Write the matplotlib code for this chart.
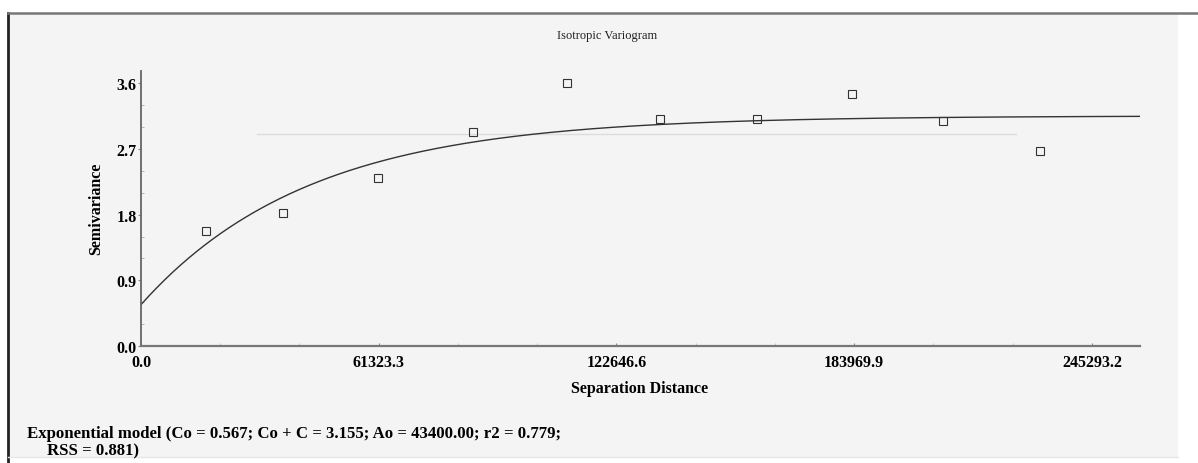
import numpy as np
import matplotlib
matplotlib.use("Agg")
import matplotlib.pyplot as plt
from matplotlib.lines import Line2D
from matplotlib.patches import Rectangle

# ---- data ----
lag_distance = [16800, 36700, 61200, 85700, 110000, 134000, 159000, 183300, 206800, 232000]
semivariance = [1.57, 1.82, 2.30, 2.94, 3.61, 3.11, 3.11, 3.46, 3.08, 2.68]
nugget = 0.567          # Co
sill = 3.155            # Co + C
range_a0 = 43400.0      # Ao
sample_variance = 2.91
x_ticks = [0.0, 61323.3, 122646.6, 183969.9, 245293.2]
y_ticks = [0.0, 0.9, 1.8, 2.7, 3.6]
title = "Isotropic Variogram"
xlabel = "Separation Distance"
ylabel = "Semivariance"
footer1 = "Exponential model (Co = 0.567; Co + C = 3.155; Ao = 43400.00; r2 = 0.779;"
footer2 = "RSS = 0.881)"

W, H = 1198, 464
plt.rcParams["font.family"] = ["Liberation Serif", "DejaVu Serif"]
fig = plt.figure(figsize=(W / 100, H / 100), dpi=100, facecolor="white")

# panel background and borders
fig.patches.append(Rectangle((8 / W, 1 - 458 / H), (1178 - 8) / W, (458 - 14) / H,
                             transform=fig.transFigure, facecolor="#f4f4f4",
                             edgecolor="none", zorder=-10))
fig.lines.append(Line2D([8 / W, 8 / W], [1 - 14 / H, 0], transform=fig.transFigure,
                        color="#222222", lw=2.0, zorder=-5))
fig.lines.append(Line2D([8 / W, 1], [1 - 14 / H, 1 - 14 / H], transform=fig.transFigure,
                        color="#777777", lw=1.8, zorder=-5))
fig.lines.append(Line2D([8 / W, 1178 / W], [1 - 458 / H, 1 - 458 / H], transform=fig.transFigure,
                        color="#e6e6e6", lw=1.0, zorder=-5))

left, right, top, bottom = 141, 1140, 72, 347
ax = fig.add_axes([left / W, 1 - bottom / H, (right - left) / W, (bottom - top) / H])
ax.set_zorder(1)
ax.set_facecolor("none")
ax.set_xlim(0, 257700)
ax.set_ylim(0, 3.77)

for s in ["top", "right"]:
    ax.spines[s].set_visible(False)
ax.spines["left"].set_color("#666666")
ax.spines["bottom"].set_color("#777777")
ax.spines["left"].set_linewidth(1.3)
ax.spines["bottom"].set_linewidth(1.6)

# sample variance line (faint)
ax.plot([30000, 225700], [sample_variance, sample_variance], color="#dcdcdc", lw=1.0, zorder=1)

# model curve
h = np.linspace(0, 257700, 500)
gamma = nugget + (sill - nugget) * (1 - np.exp(-h / range_a0))
ax.plot(h, gamma, color="#333333", lw=1.0, zorder=2)

# data points
ax.plot(lag_distance, semivariance, linestyle="none", marker="s", markersize=5.5,
        markerfacecolor="none", markeredgecolor="#333333", markeredgewidth=0.8, zorder=3)

ax.set_xticks(x_ticks)
ax.set_xticklabels([f"{v:.1f}" for v in x_ticks], fontsize=11.5, fontweight="bold")
ax.set_yticks(y_ticks)
ax.set_yticklabels([f"{v:.1f}" for v in y_ticks], fontsize=11.5, fontweight="bold")
ax.set_xticks(np.arange(0, 257700, 61323.3 / 3), minor=True)
ax.set_yticks(np.arange(0, 3.7, 0.3), minor=True)
ax.tick_params(axis="x", which="major", length=2, direction="in", color="#888888", pad=6)
ax.tick_params(axis="x", which="minor", length=2, direction="in", color="#bbbbbb")
ax.tick_params(axis="y", which="major", length=2, direction="out", color="#888888", pad=1)
ax.tick_params(axis="y", which="minor", length=2, direction="in", color="#aaaaaa")

fig.text(607 / W, 1 - 36 / H, title, fontsize=9, ha="center", va="center", color="#222222")
fig.text(640 / W, 1 - 389 / H, xlabel, fontsize=11.5, fontweight="bold", ha="center", va="center")
fig.text(96 / W, 1 - 209 / H, ylabel, fontsize=11.5, fontweight="bold", ha="center", va="center",
         rotation=90)
fig.text(27 / W, 1 - 434 / H, footer1, fontsize=12.1, fontweight="bold", ha="left", va="center")
fig.text(47 / W, 1 - 451 / H, footer2, fontsize=12.1, fontweight="bold", ha="left", va="center")

fig.savefig("out.png", dpi=100, facecolor="white")
